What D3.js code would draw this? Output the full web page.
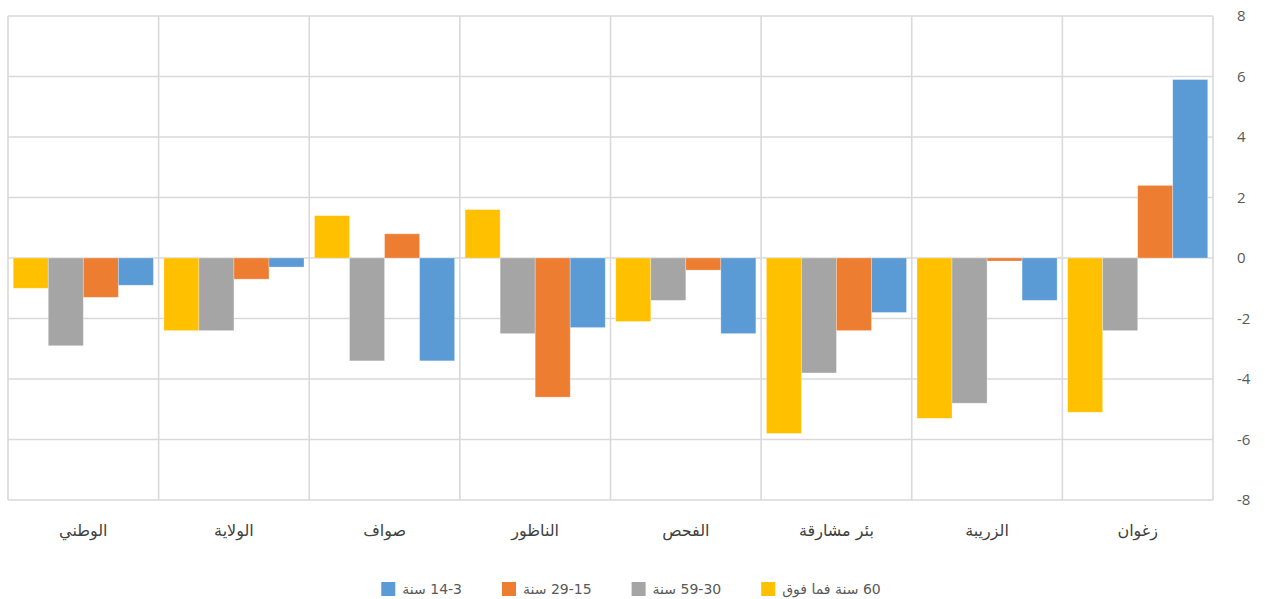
<!DOCTYPE html>
<html><head><meta charset="utf-8">
<script src="https://cdn.jsdelivr.net/npm/d3@7"></script>
<style>
html,body{margin:0;padding:0;background:#fff;}
text{font-family:"DejaVu Sans","Open Sans",sans-serif;}
</style></head>
<body>
<svg id="c" width="1265" height="599"></svg>
<script>
// Categories, right to left as in the chart
const categories = ["زغوان","الزريبة","بئر مشارقة","الفحص","الناظور","صواف","الولاية","الوطني"];
const seriesNames = ["60 سنة فما فوق","59-30 سنة","29-15 سنة","14-3 سنة"];
const seriesColors = ["#FFC000","#A5A5A5","#ED7D31","#5B9BD5"];
const age60plus = [-5.1,-5.3,-5.8,-2.1, 1.6, 1.4,-2.4,-1.0];
const age30_59  = [-2.4,-4.8,-3.8,-1.4,-2.5,-3.4,-2.4,-2.9];
const age15_29  = [ 2.4,-0.1,-2.4,-0.4,-4.6, 0.8,-0.7,-1.3];
const age3_14   = [ 5.9,-1.4,-1.8,-2.5,-2.3,-3.4,-0.3,-0.9];
const yTicks = [-8,-6,-4,-2,0,2,4,6,8];
const seriesValues = [age60plus, age30_59, age15_29, age3_14];

const svg = d3.select("#c");
const L = 8, R = 1213, T = 16, B = 500;

const x0 = d3.scaleBand().domain(categories).range([R, L]).padding(0);
const x1 = d3.scaleBand().domain(d3.range(seriesNames.length)).range([0, x0.bandwidth()]).paddingInner(0).paddingOuter(0.15);
const y = d3.scaleLinear().domain([-8, 8]).range([B, T]);

const grid = "#D9D9D9";
// horizontal gridlines
svg.append("g").selectAll("line").data(yTicks).join("line")
  .attr("x1", L).attr("x2", R).attr("y1", d => y(d)).attr("y2", d => y(d))
  .attr("stroke", grid).attr("stroke-width", 1.6);
// vertical separators
const seps = categories.map(c => x0(c)).concat([R]);
svg.append("g").selectAll("line").data(seps).join("line")
  .attr("x1", d => d).attr("x2", d => d).attr("y1", T).attr("y2", B)
  .attr("stroke", grid).attr("stroke-width", 1.6);

// bars
const barData = [];
categories.forEach((c, i) => seriesValues.forEach((arr, s) => barData.push({c, s, v: arr[i]})));
svg.append("g").selectAll("rect").data(barData).join("rect")
  .attr("x", d => x0(d.c) + x1(d.s))
  .attr("width", x1.bandwidth())
  .attr("y", d => y(Math.max(0, d.v)))
  .attr("height", d => Math.abs(y(d.v) - y(0)))
  .attr("fill", d => seriesColors[d.s])
  .attr("stroke", "#fff").attr("stroke-opacity", 0.35).attr("stroke-width", 0.8);

// right axis
const yAxis = d3.axisRight(y).tickValues(yTicks).tickSize(0).tickPadding(24).tickFormat(d => String(d));
const ga = svg.append("g").attr("transform", `translate(${R},0)`).call(yAxis);
ga.select(".domain").remove();
ga.selectAll("text").attr("fill", "#595959").style("font-size", "15px").style("font-family", "'Open Sans',sans-serif");

// category labels
const xAxis = d3.axisBottom(x0).tickSize(0).tickPadding(0);
const gx = svg.append("g").attr("transform", `translate(0,${B + 25})`).call(xAxis);
gx.select(".domain").remove();
gx.selectAll("text").attr("fill", "#404040").style("font-size", "16px").attr("direction", "rtl");

// legend (left to right: blue, orange, gray, yellow)
const legOrder = [3, 2, 1, 0];
const lg = svg.append("g");
const items = legOrder.map(s => {
  const g = lg.append("g");
  g.append("rect").attr("width", 14).attr("height", 14).attr("y", -11).attr("fill", seriesColors[s]);
  const t = g.append("text").text(seriesNames[s]).attr("direction", "rtl").attr("text-anchor", "middle")
    .attr("fill", "#595959").style("font-size", "14px").attr("y", 0).attr("dy", "0.1em");
  const w = t.node().getBBox().width;
  t.attr("x", 21 + w / 2);
  return {g, w: 21 + w};
});
const gap = 40;
const total = d3.sum(items, d => d.w) + gap * (items.length - 1);
let cx = 631 - total / 2;
items.forEach(it => { it.g.attr("transform", `translate(${cx},${593})`); cx += it.w + gap; });
</script>
</body></html>
